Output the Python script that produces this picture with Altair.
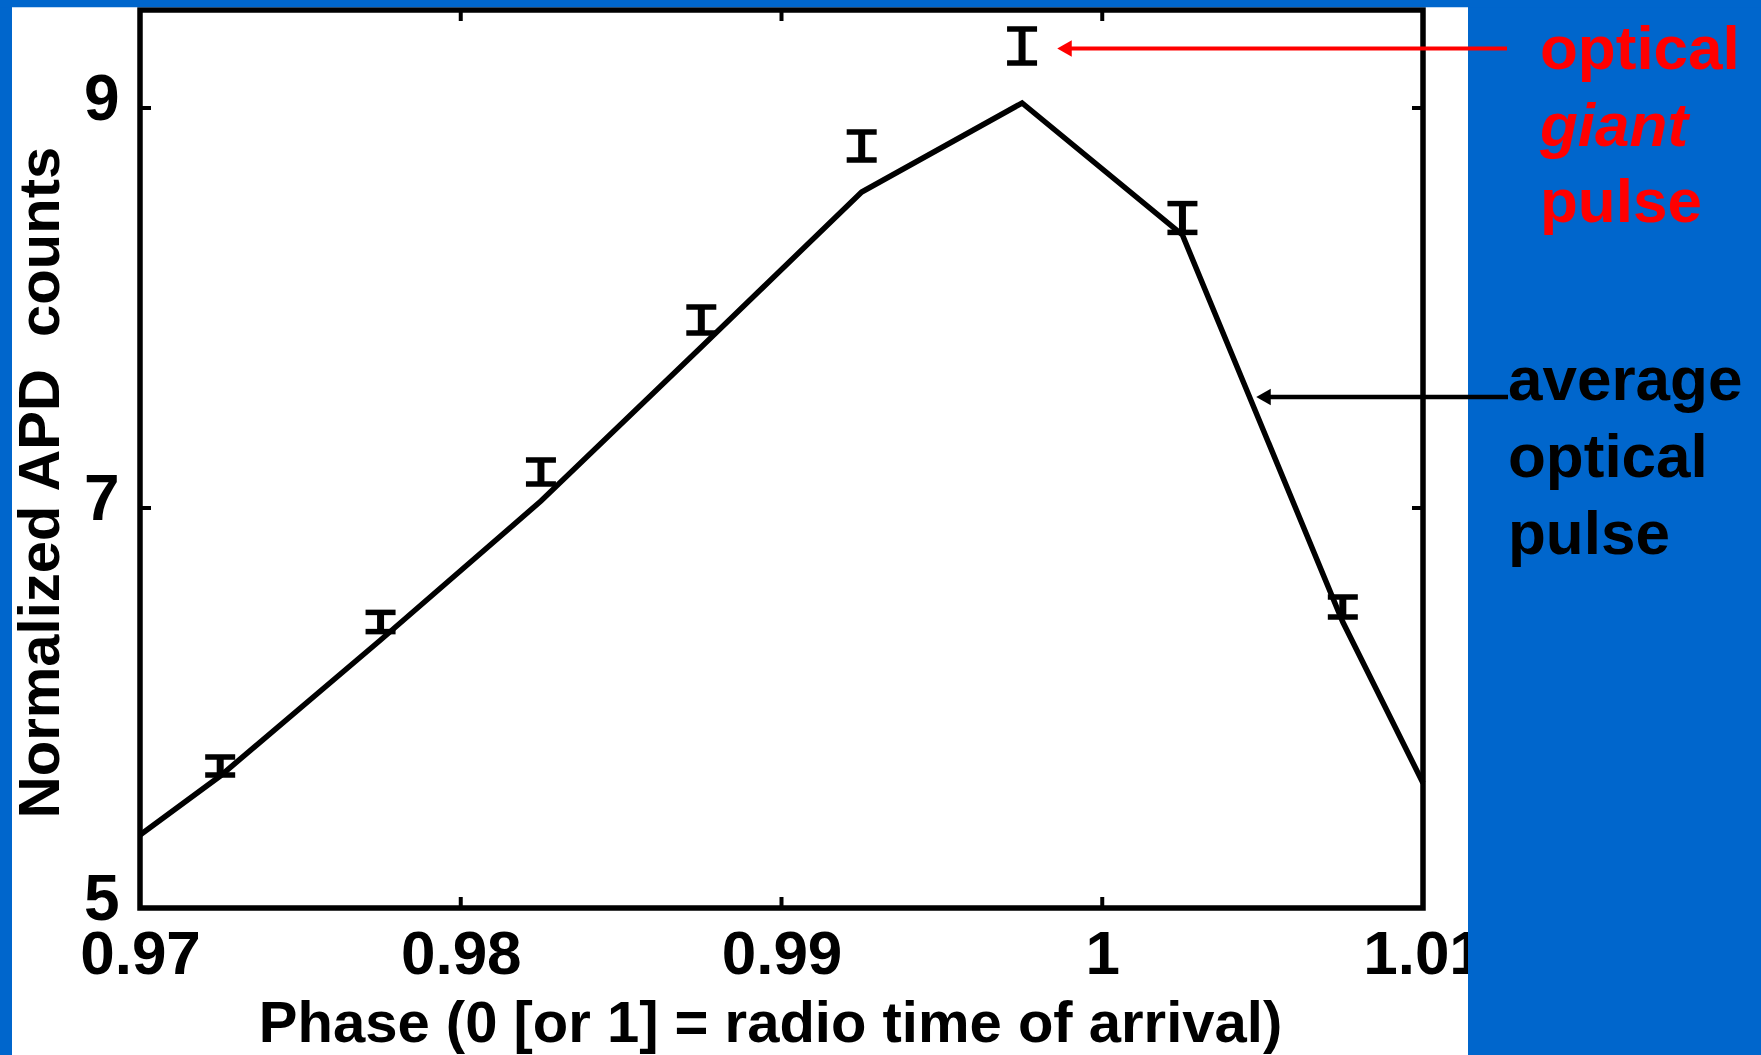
import altair as alt
import pandas as pd

# Phase bins (centres) with normalised APD counts and their 1-sigma errors
phase = [0.9725, 0.9775, 0.9825, 0.9875, 0.9925, 0.9975, 1.0025, 1.0075]
counts = [5.71, 6.43, 7.18, 7.94, 8.81, 9.31, 8.45, 6.505]
errors = [0.045, 0.048, 0.06, 0.065, 0.07, 0.085, 0.072, 0.05]

# Average optical pulse profile
avg_phase = [0.97, 0.9725, 0.9775, 0.9825, 0.9875, 0.9925, 0.9975, 1.0025, 1.0075, 1.01]
avg_counts = [5.365, 5.66, 6.34, 7.035, 7.805, 8.58, 9.025, 8.365, 6.43, 5.625]

x_ticks = [0.97, 0.98, 0.99, 1.0, 1.01]
y_ticks = [5, 7, 9]

x_title = "Phase (0 [or 1] = radio time of arrival)"
y_title = "Normalized APD\u00a0 counts"

W, H = 1283, 898
BLUE = "#0066CC"
RED = "#FF0000"
FONT = "Liberation Sans, Arial, Helvetica, sans-serif"

pts = pd.DataFrame({
    "phase": phase,
    "counts": counts,
    "lo": [c - e for c, e in zip(counts, errors)],
    "hi": [c + e for c, e in zip(counts, errors)],
})
avg = pd.DataFrame({"phase": avg_phase, "counts": avg_counts})
xt = pd.DataFrame({"phase": x_ticks})
yt = pd.DataFrame({"counts": y_ticks})
one = pd.DataFrame({"k": [0]})

xs = alt.Scale(domain=[0.97, 1.01], nice=False, zero=False)
ys = alt.Scale(domain=[5, 9.49], nice=False, zero=False)

x_axis = alt.Axis(
    values=x_ticks, format=".2~f", labelFlush=False, labelOverlap=False,
    labelPadding=16, labelFontSize=62, title=x_title, titleX=630, titleY=133.5,
    titleAlign="center", titleBaseline="alphabetic",
)
y_axis = alt.Axis(
    values=y_ticks, labelPadding=21, labelOverlap=False, labelOffset=-8,
    labelFontSize=64, title=y_title, titleX=-82, titleY=472, titleAngle=270,
    titleAlign="center", titleBaseline="alphabetic",
)

X = lambda f="phase": alt.X(f"{f}:Q", scale=xs, axis=x_axis)
Y = lambda f="counts": alt.Y(f"{f}:Q", scale=ys, axis=y_axis)

# average pulse profile
line = alt.Chart(avg).mark_line(color="black", strokeWidth=5.5).encode(x=X(), y=Y())

# error bars: stems and caps
stems = alt.Chart(pts).mark_rule(color="black", strokeWidth=7).encode(
    x=X(), y=Y("lo"), y2="hi:Q"
)
cap_style = dict(color="black", orient="horizontal", size=30, thickness=5.5, opacity=1)
cap_lo = alt.Chart(pts).mark_tick(**cap_style).encode(x=X(), y=Y("lo"))
cap_hi = alt.Chart(pts).mark_tick(**cap_style).encode(x=X(), y=Y("hi"))

# inward tick marks on all four sides
tk = dict(color="black", strokeWidth=4)
xt_bot = alt.Chart(xt).mark_rule(**tk).encode(x=X(), y=alt.value(H), y2=alt.value(H - 11))
xt_top = alt.Chart(xt).mark_rule(**tk).encode(x=X(), y=alt.value(0), y2=alt.value(11))
yt_left = alt.Chart(yt).mark_rule(**tk).encode(y=Y(), x=alt.value(0), x2=alt.value(11))
yt_right = alt.Chart(yt).mark_rule(**tk).encode(y=Y(), x=alt.value(W), x2=alt.value(W - 11))

# frame around the plot area
frame = alt.Chart(one).mark_rect(filled=False, stroke="black", strokeWidth=5.5).encode(
    x=alt.value(0), x2=alt.value(W), y=alt.value(0), y2=alt.value(H)
)


def panel(x0, x1, y0, y1):
    return alt.Chart(one).mark_rect(color=BLUE).encode(
        x=alt.value(x0), x2=alt.value(x1), y=alt.value(y0), y2=alt.value(y1)
    )


blue_right = panel(1328, 1700, -20, 1100)
blue_left = panel(-160, -128, -20, 1100)
blue_top = panel(-160, 1700, -20, -2.75)

# arrows
red_shaft = alt.Chart(one).mark_rule(color=RED, strokeWidth=4).encode(
    x=alt.value(930), x2=alt.value(1367), y=alt.value(38.5)
)
red_head = alt.Chart(one).mark_point(
    shape="triangle-left", filled=True, color=RED, size=280, opacity=1
).encode(x=alt.value(924.5), y=alt.value(38.5))
blk_shaft = alt.Chart(one).mark_rule(color="black", strokeWidth=4.5).encode(
    x=alt.value(1128), x2=alt.value(1368), y=alt.value(387)
)
blk_head = alt.Chart(one).mark_point(
    shape="triangle-left", filled=True, color="black", size=280, opacity=1
).encode(x=alt.value(1123.5), y=alt.value(387))


def label(text, x, y, color, style="normal"):
    return alt.Chart(one).mark_text(
        text=text, align="left", baseline="alphabetic", font=FONT,
        fontSize=62, fontWeight="bold", fontStyle=style, color=color,
    ).encode(x=alt.value(x), y=alt.value(y))


labels = [
    label("optical", 1400, 59, RED),
    label("giant", 1400, 136, RED, "italic"),
    label("pulse", 1400, 212, RED),
    label("average", 1368, 390, "black"),
    label("optical", 1368, 467, "black"),
    label("pulse", 1368, 544, "black"),
]

chart = alt.layer(
    line, stems, cap_lo, cap_hi, xt_bot, xt_top, yt_left, yt_right, frame,
    blue_right, blue_left, blue_top,
    red_shaft, red_head, blk_shaft, blk_head, *labels,
).properties(
    width=W, height=H,
    padding={"left": 140, "top": 10, "right": 338, "bottom": 147},
    autosize=alt.AutoSizeParams(type="none"),
    background="white",
).configure_view(
    stroke=None
).configure_axis(
    domain=False, ticks=False, grid=False,
    labelFont=FONT, labelFontWeight="bold", labelColor="black",
    titleFont=FONT, titleFontSize=58, titleColor="black", titleFontWeight="bold",
)

chart.save("out.html", embed_options={"renderer": "svg", "actions": False})
